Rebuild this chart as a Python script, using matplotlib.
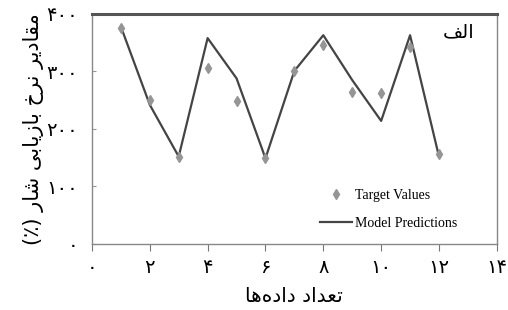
import matplotlib
matplotlib.use("Agg")
import matplotlib.pyplot as plt

# data
sample_no = [1, 2, 3, 4, 5, 6, 7, 8, 9, 10, 11, 12]
target_values = [375, 250, 152, 306, 249, 149, 301, 346, 265, 262, 342, 157]
model_predictions = [378, 242, 152, 358, 288, 149, 301, 363, 285, 214, 363, 152]
x_ticks = [0, 2, 4, 6, 8, 10, 12, 14]
y_ticks = [0, 100, 200, 300, 400]

# Arabic presentation forms: (isolated, final, initial, medial); 2-tuple = right-joining only
FORMS = {
    "ا": ("\uFE8D", "\uFE8E"),
    "د": ("\uFEA9", "\uFEAA"),
    "ر": ("\uFEAD", "\uFEAE"),
    "ز": ("\uFEAF", "\uFEB0"),
    "ب": ("\uFE8F", "\uFE90", "\uFE91", "\uFE92"),
    "ت": ("\uFE95", "\uFE96", "\uFE97", "\uFE98"),
    "خ": ("\uFEA5", "\uFEA6", "\uFEA7", "\uFEA8"),
    "ش": ("\uFEB5", "\uFEB6", "\uFEB7", "\uFEB8"),
    "ع": ("\uFEC9", "\uFECA", "\uFECB", "\uFECC"),
    "ف": ("\uFED1", "\uFED2", "\uFED3", "\uFED4"),
    "ق": ("\uFED5", "\uFED6", "\uFED7", "\uFED8"),
    "ل": ("\uFEDD", "\uFEDE", "\uFEDF", "\uFEE0"),
    "م": ("\uFEE1", "\uFEE2", "\uFEE3", "\uFEE4"),
    "ن": ("\uFEE5", "\uFEE6", "\uFEE7", "\uFEE8"),
    "ه": ("\uFEE9", "\uFEEA", "\uFEEB", "\uFEEC"),
    "ی": ("\uFBFC", "\uFBFD", "\uFBFE", "\uFBFF"),
}


def shape_word(word):
    out = []
    for i, ch in enumerate(word):
        if ch not in FORMS:
            if ch != "\u200c":
                out.append(ch)
            continue
        prev = word[i - 1] if i > 0 else ""
        nxt = word[i + 1] if i + 1 < len(word) else ""
        joins_prev = prev in FORMS and len(FORMS[prev]) == 4
        joins_next = len(FORMS[ch]) == 4 and nxt in FORMS
        f = FORMS[ch]
        if joins_prev and joins_next:
            out.append(f[3])
        elif joins_prev:
            out.append(f[1])
        elif joins_next:
            out.append(f[2])
        else:
            out.append(f[0])
    return "".join(reversed(out))


def fa(text):
    return " ".join(shape_word(w) for w in reversed(text.split(" ")))


def fa_num(n):
    return "".join("۰۱۲۳۴۵۶۷۸۹"[int(d)] for d in str(n))


fig = plt.figure(figsize=(5.08, 3.10), dpi=100)
ax = fig.add_axes([0.181, 0.213, 0.797, 0.742])

ax.plot(sample_no, model_predictions, color="#444444", lw=1.6, label="Model Predictions", zorder=2)
ax.plot(sample_no, target_values, ls="none", marker="d", ms=5, color="#959595",
        label="Target Values", zorder=3)

ax.set_xlim(0, 14)
ax.set_ylim(0, 400)
ax.set_xticks(x_ticks)
ax.set_xticklabels([fa_num(v) for v in x_ticks], fontsize=14, family="DejaVu Sans")
ax.set_yticks(y_ticks)
ax.set_yticklabels([fa_num(v) for v in y_ticks], fontsize=14, family="DejaVu Sans")
ax.tick_params(axis="x", direction="out", length=5, color="#777777", pad=5)
ax.tick_params(axis="y", direction="in", length=3, color="#999999", pad=10)

for side in ["left", "bottom", "right"]:
    ax.spines[side].set_color("#888888")
    ax.spines[side].set_linewidth(1.0)
ax.spines["top"].set_color("#555555")
ax.spines["top"].set_linewidth(2.2)

ax.set_xlabel(fa("تعداد داده‌ها"), fontsize=14.5, family="DejaVu Sans", labelpad=7)
ax.set_ylabel("(٪) " + fa("مقادیر نرخ بازیابی شار"), fontsize=15, family="DejaVu Sans", labelpad=2)

ax.text(0.945, 0.965, fa("الف"), transform=ax.transAxes, ha="right", va="top",
        fontsize=14, family="DejaVu Sans")

handles, labels = ax.get_legend_handles_labels()
ax.legend(handles[::-1], labels[::-1], loc="lower left", bbox_to_anchor=(0.563, 0.06),
          frameon=False, handlelength=2.3, handletextpad=0.25, labelspacing=1.1,
          borderaxespad=0, borderpad=0, prop={"family": "Liberation Serif", "size": 10})

fig.savefig("out.png", dpi=100)
